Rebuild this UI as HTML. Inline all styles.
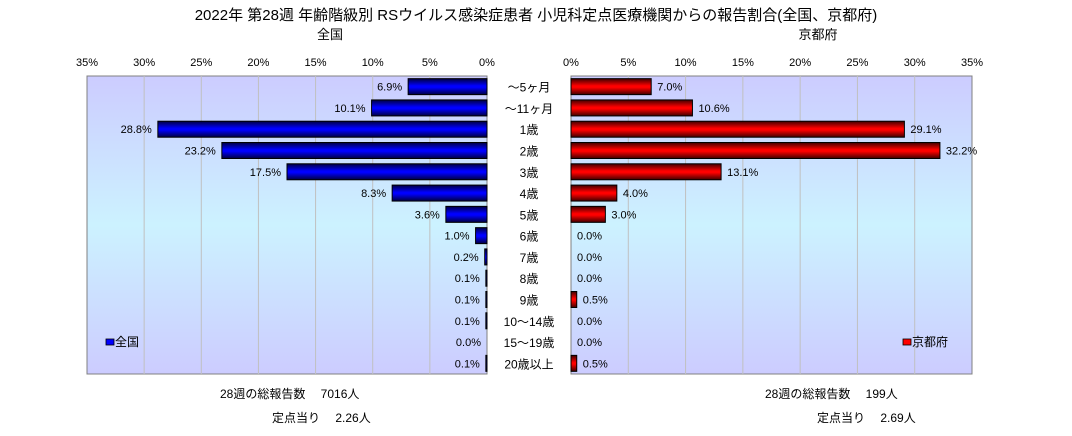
<!DOCTYPE html>
<html><head><meta charset="utf-8"><style>
body{margin:0;background:#fff;}
svg text{font-family:"Liberation Sans","Noto Sans CJK JP",sans-serif;fill:#000;}
</style></head><body>
<svg id="c" width="1072" height="431" xmlns="http://www.w3.org/2000/svg">
<defs>
<linearGradient id="bg" x1="0" y1="0" x2="0" y2="1">
<stop offset="0" stop-color="#ccccff"/><stop offset="0.5" stop-color="#ccf2ff"/><stop offset="1" stop-color="#ccccff"/>
</linearGradient>
<linearGradient id="gb" x1="0" y1="0" x2="0" y2="1">
<stop offset="0" stop-color="#000040"/><stop offset="0.45" stop-color="#0000ff"/><stop offset="0.55" stop-color="#0000ff"/><stop offset="1" stop-color="#000040"/>
</linearGradient>
<linearGradient id="gr" x1="0" y1="0" x2="0" y2="1">
<stop offset="0" stop-color="#400000"/><stop offset="0.45" stop-color="#ff0000"/><stop offset="0.55" stop-color="#ff0000"/><stop offset="1" stop-color="#400000"/>
</linearGradient>
</defs>
<text x="536" y="20" font-size="15" text-anchor="middle">2022年 第28週 年齢階級別 RSウイルス感染症患者 小児科定点医療機関からの報告割合(全国、京都府)</text>
<text x="330" y="39" font-size="13" text-anchor="middle">全国</text>
<text x="818" y="39" font-size="13" text-anchor="middle">京都府</text>
<rect x="87" y="76" width="400" height="298" fill="url(#bg)" stroke="#808080"/>
<rect x="571" y="76" width="401" height="298" fill="url(#bg)" stroke="#808080"/>
<g id="g"></g>
<rect x="106" y="339" width="8" height="6" fill="#0000ff" stroke="#000" stroke-width="0.8"/>
<text x="115" y="346" font-size="12">全国</text>
<rect x="903" y="339" width="8" height="6" fill="#ff0000" stroke="#000" stroke-width="0.8"/>
<text x="912" y="346" font-size="12">京都府</text>
<text x="220" y="398" font-size="12">28週の総報告数　 7016人</text>
<text x="272" y="422" font-size="12">定点当り　 2.26人</text>
<text x="765" y="398" font-size="12">28週の総報告数　 199人</text>
<text x="817" y="422" font-size="12">定点当り　 2.69人</text>
</svg>
<script>
const categories=["～5ヶ月","～11ヶ月","1歳","2歳","3歳","4歳","5歳","6歳","7歳","8歳","9歳","10～14歳","15～19歳","20歳以上"];
const nationalValues=[6.9,10.1,28.8,23.2,17.5,8.3,3.6,1.0,0.2,0.1,0.1,0.1,0.0,0.1];
const kyotoValues=[7.0,10.6,29.1,32.2,13.1,4.0,3.0,0.0,0.0,0.0,0.5,0.0,0.0,0.5];
const ticks=[0,5,10,15,20,25,30,35];
const NS="http://www.w3.org/2000/svg";
const g=document.getElementById('g');
const top0=76,rowH=298/14,maxV=35;
const xL=v=>487-v*400/maxV;
const xR=v=>571+v*401/maxV;
const yRow=i=>top0+rowH*(i+0.5);
function mk(tag,a){const e=document.createElementNS(NS,tag);for(const k in a)e.setAttribute(k,a[k]);g.appendChild(e);return e;}
ticks.forEach(t=>{
  if(t>0&&t<35){
    let l=mk('line',{x1:xL(t),x2:xL(t),y1:76,y2:374,stroke:'#c0c0c0'});
    
    
    let r=mk('line',{x1:xR(t),x2:xR(t),y1:76,y2:374,stroke:'#c0c0c0'});
    
    
  }
  let a=mk('text',{x:xL(t),y:66,'font-size':11,'text-anchor':'middle'});a.textContent=t+'%';
  
  
  let b=mk('text',{x:xR(t),y:66,'font-size':11,'text-anchor':'middle'});b.textContent=t+'%';
  
  
});
categories.forEach((c,i)=>{
  const y=yRow(i);
  const lab=mk('text',{x:529,y:y+5,'font-size':12,'text-anchor':'middle'});lab.textContent=c;
  
  
  const nv=nationalValues[i];
  if(nv>0){
    const w=Math.max(nv*400/maxV,1);
    const r=mk('rect',{x:487-w,y:y-8,width:w,height:16,fill:'url(#gb)',stroke:'#000','stroke-width':1});
    
    
  }
  const nt=mk('text',{x:xL(nv)-6,y:y+4,'font-size':11,'text-anchor':'end'});nt.textContent=nv.toFixed(1)+'%';
  
  
  const kv=kyotoValues[i];
  if(kv>0){
    const r=mk('rect',{x:571,y:y-8,width:kv*401/maxV,height:16,fill:'url(#gr)',stroke:'#000','stroke-width':1});
    
    
  }
  const kt=mk('text',{x:xR(kv)+6,y:y+4,'font-size':11});kt.textContent=kv.toFixed(1)+'%';
  
  
});
</script>
</body></html>
